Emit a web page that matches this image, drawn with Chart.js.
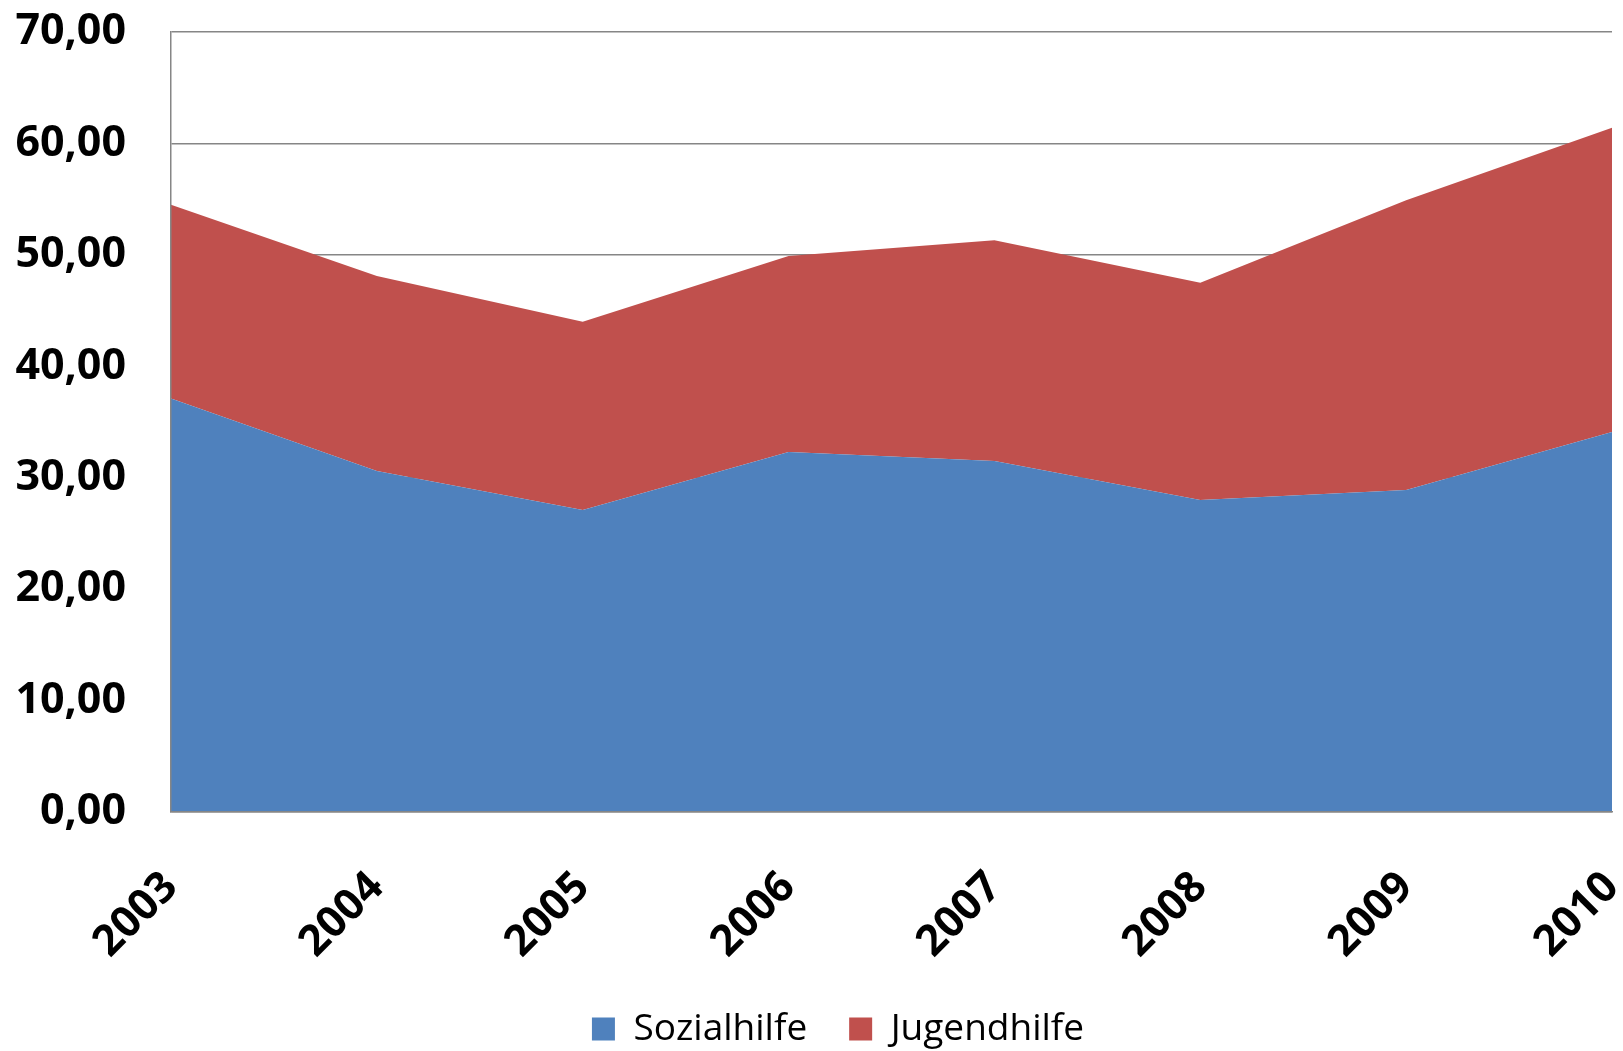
<!DOCTYPE html>
<html>
<head>
<meta charset="utf-8">
<script src="https://cdn.jsdelivr.net/npm/chart.js@4.4.1/dist/chart.umd.min.js"></script>
<style>
  body { margin: 0; background: #fff; }
  #wrap { width: 1623px; height: 1051px; }
</style>
</head>
<body>
<div id="wrap"><canvas id="chart" width="1623" height="1051"></canvas></div>
<script>
// data
const years = ['2003', '2004', '2005', '2006', '2007', '2008', '2009', '2010'];
const sozialhilfe = [37.1, 30.6, 27.1, 32.3, 31.5, 28.0, 28.9, 34.1];
const jugendhilfe = [17.4, 17.5, 16.9, 17.6, 19.8, 19.5, 26.0, 27.3];
const yTicks = [0, 10, 20, 30, 40, 50, 60, 70];

const tickFont = { family: 'Open Sans', size: 43, weight: 'bold' };

// the legend in the original sits a bit right of the canvas centre
const legendShift = {
    id: 'legendShift',
    afterLayout(chart) {
        chart.legend.left += 32;
        chart.legend.right += 32;
    }
};

const ctx = document.getElementById('chart').getContext('2d');
const chart = new Chart(ctx, {
    type: 'line',
    data: {
        labels: years,
        datasets: [
            {
                label: 'Sozialhilfe',
                data: sozialhilfe,
                backgroundColor: '#4F81BD',
                borderColor: '#4F81BD',
                borderWidth: 0,
                pointRadius: 0,
                fill: 'origin'
            },
            {
                label: 'Jugendhilfe',
                data: jugendhilfe,
                backgroundColor: '#C0504D',
                borderColor: '#C0504D',
                borderWidth: 0,
                pointRadius: 0,
                fill: '-1'
            }
        ]
    },
    plugins: [legendShift],
    options: {
        responsive: false,
        animation: false,
        layout: { padding: { top: 32, right: 11, left: 0, bottom: -6.5 } },
        plugins: {
            legend: {
                position: 'bottom',
                labels: {
                    boxWidth: 23,
                    boxHeight: 23,
                    padding: 42,
                    color: '#000',
                    font: { family: 'Open Sans', size: 37 }
                }
            },
            tooltip: { enabled: false }
        },
        scales: {
            x: {
                offset: false,
                grid: { display: false },
                border: { display: true, color: '#868686', width: 1.5, z: 1 },
                ticks: {
                    maxRotation: 45,
                    minRotation: 45,
                    padding: 42,
                    color: '#000',
                    font: tickFont
                },
                afterFit: (scale) => {
                    scale.height = 156.5;
                    scale.paddingLeft = 0;
                    scale.paddingRight = 0;
                    scale.paddingTop = 0;
                    scale.paddingBottom = 0;
                }
            },
            y: {
                stacked: true,
                min: 0,
                max: 70,
                afterBuildTicks: (scale) => { scale.ticks = yTicks.map(v => ({ value: v })); },
                grid: { color: '#868686', lineWidth: 1.5, drawTicks: false },
                border: { display: true, color: '#868686', width: 1.5, z: 1 },
                ticks: {
                    padding: 45,
                    color: '#000',
                    font: tickFont,
                    callback: (v) => v.toFixed(2).replace('.', ',')
                },
                afterFit: (scale) => {
                    scale.width = 171;
                    scale.paddingTop = 0;
                    scale.paddingBottom = 0;
                }
            }
        }
    }
});
</script>
</body>
</html>
